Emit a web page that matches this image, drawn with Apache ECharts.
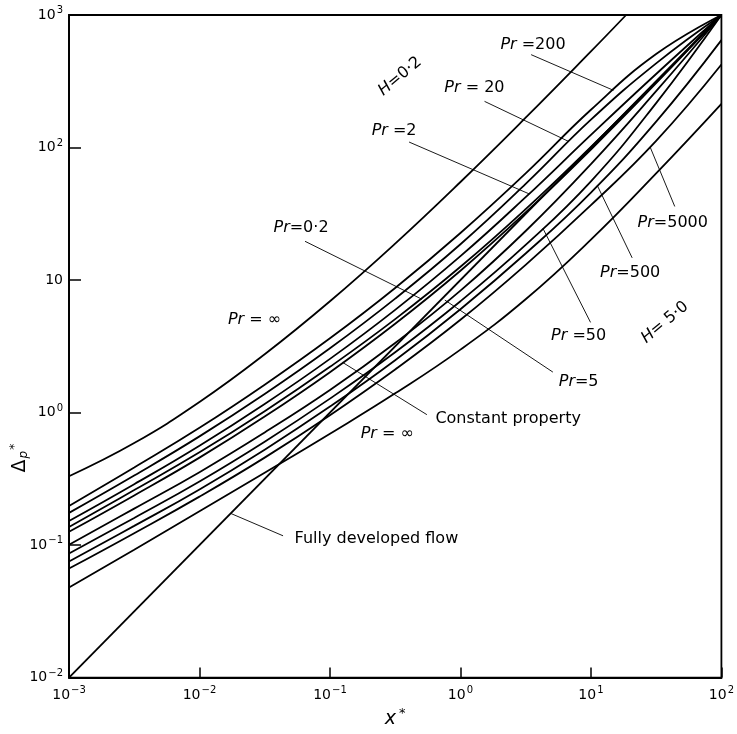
<!DOCTYPE html>
<html>
<head>
<meta charset="utf-8">
<script src="https://cdn.jsdelivr.net/npm/echarts@6/dist/echarts.min.js"></script>
<style>
  html, body { margin: 0; padding: 0; background: #fff; }
  #chart { width: 737px; height: 734px; }
</style>
</head>
<body>
<div id="chart"></div>
<script>
const xGrid = [0.001, 0.00316, 0.01, 0.0316, 0.1, 0.316, 1, 3.16, 10, 31.6, 100]
const xH02Inf = [0.001, 0.00316, 0.01, 0.0316, 0.1, 0.316, 1, 3.16, 10, 18.6]

// H = 0.2
const h02PrInf = [0.331, 0.589, 1.202, 2.754, 6.918, 18.84, 54.95, 167.9, 531, 1000]
const h02Pr200 = [0.197, 0.385, 0.767, 1.622, 3.631, 8.710, 22.65, 63.8, 192.8, 507, 1000]
const h02Pr20 = [0.175, 0.335, 0.661, 1.380, 3.055, 7.244, 18.62, 53.1, 162.2, 431.5, 1000]
const h02Pr2 = [0.152, 0.288, 0.562, 1.161, 2.541, 5.957, 15.14, 42.2, 124.5, 358.9, 1000]
const h02Pr02 = [0.137, 0.260, 0.501, 1.023, 2.213, 5.070, 12.59, 34.3, 101.2, 312.6, 1000]

// constant property
const constProp = [0.126, 0.237, 0.457, 0.933, 2.018, 4.677, 11.75, 32.36, 96.6, 305.5, 1000]

// H = 5.0
const h5Pr5 = [0.1007, 0.1884, 0.355, 0.708, 1.479, 3.350, 8.318, 23.44, 74.99, 266.1, 1000]
const h5Pr50 = [0.0863, 0.1603, 0.302, 0.603, 1.274, 2.851, 6.918, 18.41, 55.59, 216.3, 1000]
const h5Pr500 = [0.0752, 0.1396, 0.263, 0.525, 1.109, 2.483, 6.026, 15.85, 45.71, 156.7, 646]
const h5Pr5000 = [0.0665, 0.1230, 0.232, 0.457, 0.955, 2.113, 5.012, 13.03, 36.73, 112.2, 423]
const h5PrInf = [0.0479, 0.0923, 0.180, 0.351, 0.692, 1.396, 2.985, 7.161, 20.18, 63.83, 213.8]

// fully developed flow (straight line)
const fdX = [0.001, 100]
const fdY = [0.01, 1000]

// annotations: text, where it sits, leader line from -> to (data coords)
const labelText = ['Pr =200', 'Pr = 20', 'Pr =2', 'Pr=0·2', 'Pr = ∞', 'Pr=5000', 'Pr=500',
  'Pr =50', 'Pr=5', 'Pr = ∞', 'Constant property', 'Fully developed flow', 'H=0·2', 'H= 5·0']
const labelAt = [[3.60, 596], [1.28, 284], [0.310, 133], [0.060, 24.6], [0.0264, 5.04],
  [42.4, 26.8], [20.0, 11.3], [8.05, 3.82], [8.05, 1.70], [0.275, 0.694], [2.32, 0.90],
  [0.227, 0.1117], [0.345, 344], [36.9, 4.79]]
const labelRotate = [0, 0, 0, 0, 0, 0, 0, 0, 0, 0, 0, 0, 40, 40]
const leaderFrom = [[3.48, 502], [1.53, 223], [0.404, 110], [0.0644, 19.6], [43.9, 35.9],
  [20.7, 14.7], [9.93, 4.79], [5.11, 2.02], [0.553, 0.964], [0.0437, 0.1175]]
const leaderTo = [[14.9, 270], [6.76, 111], [3.36, 44.7], [0.507, 7.16], [28.4, 101],
  [11.2, 51.6], [4.29, 24.5], [0.759, 7.06], [0.125, 2.39], [0.01734, 0.1734]]

const FONT = 'DejaVu Sans'

const pairs = (xs, ys) => xs.map((x, i) => [x, ys[i]])

const curve = (name, xs, ys) => ({
  name: name,
  type: 'line',
  data: pairs(xs, ys),
  smooth: 0.45,
  symbol: 'none',
  silent: true,
  lineStyle: { color: '#000', width: 1.8 },
  z: 3,
})

const series = [
  curve('H=0.2 Pr=inf', xH02Inf, h02PrInf),
  curve('H=0.2 Pr=200', xGrid, h02Pr200),
  curve('H=0.2 Pr=20', xGrid, h02Pr20),
  curve('H=0.2 Pr=2', xGrid, h02Pr2),
  curve('H=0.2 Pr=0.2', xGrid, h02Pr02),
  curve('Constant property', xGrid, constProp),
  curve('H=5 Pr=5', xGrid, h5Pr5),
  curve('H=5 Pr=50', xGrid, h5Pr50),
  curve('H=5 Pr=500', xGrid, h5Pr500),
  curve('H=5 Pr=5000', xGrid, h5Pr5000),
  curve('H=5 Pr=inf', xGrid, h5PrInf),
  curve('Fully developed flow', fdX, fdY),
]

// leader lines
leaderFrom.forEach((p, i) => {
  series.push({
    type: 'line',
    data: [p, leaderTo[i]],
    symbol: 'none',
    silent: true,
    lineStyle: { color: '#000', width: 0.9 },
    z: 2,
  })
})

// text labels (plain text, no marker)
series.push({
  type: 'scatter',
  symbolSize: 1,
  itemStyle: { color: 'rgba(0,0,0,0)' },
  silent: true,
  z: 5,
  data: labelAt.map((p, i) => ({
    name: labelText[i],
    value: p,
    label: { rotate: labelRotate[i] },
  })),
  label: {
    show: true,
    position: 'inside',
    color: '#000',
    opacity: 1,
    textBorderWidth: 0,
    fontFamily: FONT,
    fontSize: 16,
    formatter: (params) => {
      const t = params.name
      if (t.indexOf('Pr') === 0) return '{i|Pr}{n|' + t.slice(2) + '}'
      if (t.indexOf('H') === 0) return '{i|H}{n|' + t.slice(1) + '}'
      return '{n|' + t + '}'
    },
    rich: {
      i: { fontStyle: 'italic', fontFamily: FONT, fontSize: 16, color: '#000', opacity: 1 },
      n: { fontFamily: FONT, fontSize: 16, color: '#000', opacity: 1 },
    },
  },
})

const sup = (v, skipOne) => {
  const e = Math.round(Math.log10(v))
  if (skipOne && e === 1) return '10'
  return '10{s|' + (e < 0 ? '\u2212' + (-e) : e) + '}'
}

const labelRich = {
  s: { fontSize: 10, fontFamily: FONT, color: '#000', padding: [0, 0, 9, 1] },
}

const chart = echarts.init(document.getElementById('chart'), null, { renderer: 'canvas' })

chart.setOption({
  animation: false,
  backgroundColor: '#fff',
  grid: {
    left: 69,
    right: 10,
    top: 15,
    bottom: 51,
    show: true,
    borderColor: '#000',
    borderWidth: 1.8,
    backgroundColor: 'transparent',
  },
  xAxis: {
    type: 'log',
    logBase: 10,
    min: 0.001,
    max: 100,
    name: '{i|x}{a|*}',
    nameLocation: 'middle',
    nameGap: 26,
    nameTextStyle: {
      rich: {
        i: { fontStyle: 'italic', fontFamily: FONT, fontSize: 19, color: '#000' },
        a: { fontFamily: FONT, fontSize: 13, color: '#000', padding: [0, 0, 12, 3] },
      },
    },
    axisLine: { lineStyle: { color: '#000', width: 1.8 } },
    axisTick: { inside: true, length: 10, lineStyle: { color: '#000', width: 1.5 } },
    minorTick: { show: false },
    splitLine: { show: false },
    axisLabel: {
      color: '#000',
      fontFamily: FONT,
      fontSize: 14,
      margin: 8,
      showMinLabel: true,
      showMaxLabel: true,
      formatter: (v) => sup(v, false),
      rich: labelRich,
    },
  },
  yAxis: {
    type: 'log',
    logBase: 10,
    min: 0.01,
    max: 1000,
    axisLine: { lineStyle: { color: '#000', width: 1.8 } },
    axisTick: { inside: true, length: 12, lineStyle: { color: '#000', width: 1.5 } },
    minorTick: { show: false },
    splitLine: { show: false },
    axisLabel: {
      color: '#000',
      fontFamily: FONT,
      fontSize: 14,
      margin: 6,
      showMinLabel: true,
      showMaxLabel: true,
      formatter: (v) => sup(v, true),
      rich: labelRich,
    },
  },
  graphic: [
    {
      type: 'text',
      x: 20,
      y: 458,
      rotation: Math.PI / 2,
      style: {
        text: '{d|\u0394}{p|p}{a|*}',
        fill: '#000',
        textAlign: 'center',
        textVerticalAlign: 'middle',
        rich: {
          d: { fontFamily: FONT, fontSize: 19, fill: '#000' },
          p: { fontFamily: FONT, fontSize: 12, fontStyle: 'italic', fill: '#000', padding: [8, 0, 0, 1] },
          a: { fontFamily: FONT, fontSize: 13, fill: '#000', padding: [0, 0, 10, 1] },
        },
      },
    },
  ],
  series: series,
})
</script>
</body>
</html>
